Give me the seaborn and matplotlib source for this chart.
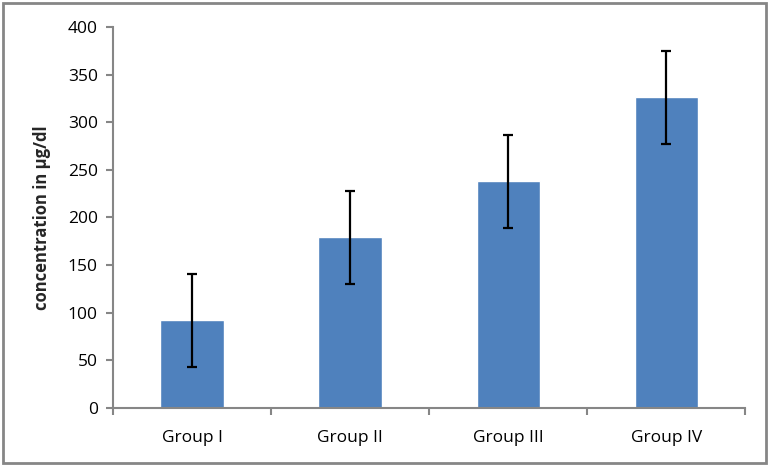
import matplotlib
matplotlib.use("Agg")
import matplotlib.pyplot as plt
import seaborn as sns
import pandas as pd
from matplotlib.patches import Rectangle
from matplotlib.ticker import FixedLocator

# ── Data ───────────────────────────────────────────────────────
groups = ["Group I", "Group II", "Group III", "Group IV"]
means = [92, 179, 238, 326]
errors = [49, 49, 49, 49]

BAR = "#4F81BD"
AXIS = "#868686"

sns.set_theme(style="white")
plt.rcParams["font.family"] = ["Open Sans", "DejaVu Sans"]

df = pd.DataFrame({"group": groups, "value": means})

fig = plt.figure(figsize=(7.69, 4.66), dpi=100)
ax = fig.add_axes([0.147, 0.1245, 0.822, 0.8176])

sns.barplot(data=df, x="group", y="value", color=BAR, width=0.4,
            saturation=1, ax=ax)
ax.errorbar(range(len(groups)), means, yerr=errors, fmt="none",
            ecolor="black", elinewidth=1.6, capsize=3.5, capthick=1.6)

ax.set_xlim(-0.5, len(groups) - 0.5)
ax.set_ylim(0, 400)
ax.set_yticks(range(0, 401, 50))
ax.set_xlabel("")
ax.set_ylabel("concentration in µg/dl", fontsize=12, fontweight="bold",
              labelpad=12)

for side in ["top", "right"]:
    ax.spines[side].set_visible(False)
for side in ["left", "bottom"]:
    ax.spines[side].set_color(AXIS)
    ax.spines[side].set_linewidth(1.5)

ax.tick_params(axis="y", which="major", left=True, length=5, width=1.5,
               color=AXIS, labelsize=12.5, pad=6, labelcolor="black")
ax.tick_params(axis="x", which="major", bottom=False, labelsize=12.5, pad=10,
               labelcolor="black")
ax.xaxis.set_minor_locator(FixedLocator([i - 0.5 for i in range(len(groups) + 1)]))
ax.tick_params(axis="x", which="minor", bottom=True, length=5, width=1.5,
               color=AXIS)

# chart border
fig.patches.append(Rectangle((0.004, 0.006), 0.992, 0.988, transform=fig.transFigure,
                             fill=False, edgecolor=AXIS, linewidth=2))

fig.savefig("out.png", dpi=100)
